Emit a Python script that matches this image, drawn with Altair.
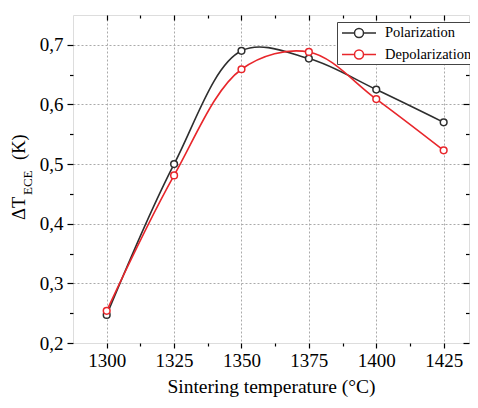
import altair as alt
import pandas as pd

temps = [1300, 1325, 1350, 1375, 1400, 1425]
polarization = [0.247, 0.500, 0.690, 0.677, 0.625, 0.570]
depolarization = [0.254, 0.481, 0.659, 0.688, 0.609, 0.523]
series_names = ["Polarization", "Depolarization"]
series_colors = ["#2e2e2e", "#e8262b"]
x_ticks = [1300, 1312.5, 1325, 1337.5, 1350, 1362.5, 1375, 1387.5, 1400, 1412.5, 1425]
y_ticks = [0.2, 0.25, 0.3, 0.35, 0.4, 0.45, 0.5, 0.55, 0.6, 0.65, 0.7]
x_domain = [1287.5, 1434.4]
y_domain = [0.2, 0.75]

rows = []
for t, p, d in zip(temps, polarization, depolarization):
    rows.append({"T": t, "v": p, "s": series_names[0]})
    rows.append({"T": t, "v": d, "s": series_names[1]})
df = pd.DataFrame(rows)

FONT = "Liberation Serif"
x_major = "datum.value % 25 == 0"
y_major = "abs(datum.value*10 - round(datum.value*10)) < 0.01"

xscale = alt.Scale(domain=x_domain, nice=False, zero=False)
yscale = alt.Scale(domain=y_domain, nice=False, zero=False)

legend_path = ("M-2.125,0H-0.5625 M0.5625,0H2.125 "
               "M-0.5625,0A0.5625,0.5625 0 1,0 0.5625,0A0.5625,0.5625 0 1,0 -0.5625,0Z")

stroke_enc = alt.Stroke(
    "s:N",
    scale=alt.Scale(domain=series_names, range=series_colors),
    sort=series_names,
    legend=alt.Legend(
        title=None, orient="none", legendX=264, legendY=7,
        symbolType=legend_path, symbolSize=256, symbolStrokeWidth=1.5,
        symbolFillColor="white", symbolOffset=11, labelOffset=17,
        labelFont=FONT, labelFontSize=14.5, labelColor="black", labelLimit=200,
        padding=2, rowPadding=4.5, strokeColor="#444", fillColor="white",
        cornerRadius=0,
    ),
)

base = alt.Chart(df)

lines = base.mark_line(interpolate="catmull-rom", strokeWidth=1.6).encode(
    x=alt.X("T:Q", scale=xscale, axis=alt.Axis(
        values=x_ticks, orient="bottom", domain=False,
        tickSize={"condition": {"test": "datum.value % 25 != 0", "value": 3}, "value": 5},
        tickColor="black", tickWidth=1.2,
        labelExpr=f"{x_major} ? format(datum.value, 'd') : ''",
        labelFont=FONT, labelFontSize=19, labelColor="black", labelPadding=3,
        grid=True, gridColor="#aaaaaa", gridDash=[2, 2], gridWidth=1,
        gridOpacity={"condition": {"test": "datum.value % 25 != 0", "value": 0}, "value": 1},
        title="Sintering temperature (°C)", titleFont=FONT, titleFontSize=19.5,
        titleFontWeight="normal", titleColor="black", titlePadding=7,
    )),
    y=alt.Y("v:Q", scale=yscale, axis=alt.Axis(
        values=y_ticks, orient="left", domain=False,
        tickSize={"condition": {"test": f"!({y_major})", "value": 3.5}, "value": 6},
        tickColor="black", tickWidth=1.2,
        labelExpr=f"{y_major} ? replace(format(datum.value, '.1f'), '.', ',') : ''",
        labelFont=FONT, labelFontSize=19, labelColor="black", labelPadding=4,
        grid=True, gridColor="#aaaaaa", gridDash=[2, 2], gridWidth=1,
        gridOpacity={"condition": {"test": f"!({y_major}) || datum.value < 0.25", "value": 0}, "value": 1},
        title=None,
    )),
    stroke=stroke_enc,
)

points = base.mark_point(shape="circle", fill="white", filled=False, opacity=1,
                         fillOpacity=1, size=45, strokeWidth=1.5).encode(
    x=alt.X("T:Q", scale=xscale, axis=None),
    y=alt.Y("v:Q", scale=yscale, axis=None),
    stroke=stroke_enc,
)

top_axis = base.mark_point(opacity=0).encode(
    x=alt.X("T:Q", scale=xscale, axis=alt.Axis(
        values=x_ticks, orient="top", domain=False, labels=False, grid=False,
        tickSize=alt.ExprRef(expr="datum.value % 25 != 0 ? -3 : -5"),
        tickColor="black", tickWidth=1.2, title=None,
    )),
    y=alt.Y("v:Q", scale=yscale, axis=None),
)

right_axis = base.mark_point(opacity=0).encode(
    x=alt.X("T:Q", scale=xscale, axis=None),
    y=alt.Y("v:Q", scale=yscale, axis=alt.Axis(
        values=y_ticks, orient="right", domain=False, labels=False, grid=False,
        tickSize=alt.ExprRef(expr=f"({y_major}) ? -6 : -3.5"),
        tickColor="black", tickWidth=1.2, title=None,
    )),
)

def title_part(txt, size, x, y):
    return alt.Chart(pd.DataFrame({"t": [txt]})).mark_text(
        angle=270, align="left", baseline="alphabetic", font=FONT,
        fontSize=size, color="black",
    ).encode(text="t:N", x=alt.value(x), y=alt.value(y))

yt1 = title_part("ΔT", 18.5, -48, 205)
yt2 = title_part("ECE", 13, -41, 180)
yt3 = title_part("(K)", 18.5, -48, 145)

chart = alt.layer(lines, points, top_axis, right_axis, yt1, yt2, yt3).resolve_axis(
    x="independent", y="independent"
).properties(
    width=396, height=328,
    padding={"left": 65, "top": 7, "right": 1, "bottom": 57},
    autosize=alt.AutoSizeParams(type="none"),
).configure_view(stroke="black", strokeWidth=1.5).configure(background="white")

chart.save("out.html", embed_options={"renderer": "svg", "actions": False})
